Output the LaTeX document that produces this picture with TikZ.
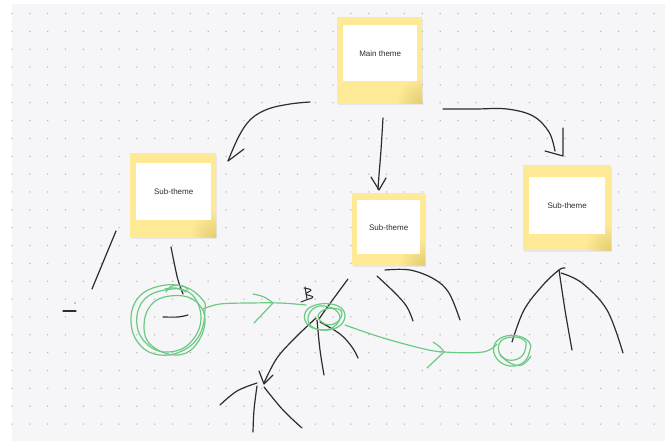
\documentclass[tikz,border=0pt]{standalone}
\usepackage{fontspec}
\setmainfont{Liberation Sans}
\usetikzlibrary{shadows,fadings}
\definecolor{board}{RGB}{246,246,248}
\definecolor{griddot}{RGB}{180,180,186}
\definecolor{notey}{RGB}{253,233,150}
\definecolor{notedark}{RGB}{226,205,112}
\definecolor{ink}{RGB}{45,45,45}
\definecolor{marker}{RGB}{108,201,132}
\tikzfading[name=cornerfade, inner color=transparent!0, outer color=transparent!100]

% sticky note: name, outer NW corner, outer w, outer h, card NW corner, card w, card h, text
\newcommand\stickynote[8]{%
  \node[note, minimum width=#3, minimum height=#4] (#1box) at #2 {};
  \begin{scope}
    \clip (#1box.south west) rectangle (#1box.north east);
    \fill[notedark, path fading=cornerfade] (#1box.south east) circle (26pt);
  \end{scope}
  \node[card, minimum width=#6, minimum height=#7] (#1) at #5 {#8};
}

\begin{document}
\begin{tikzpicture}[x=1pt,y=-1pt,
  note/.style={fill=notey, draw=none, inner sep=0pt, anchor=north west,
    drop shadow={opacity=0.12, shadow xshift=0.6pt, shadow yshift=-1.6pt}},
  card/.style={fill=white, inner sep=0pt, anchor=north west,
    font=\fontsize{8}{9}\selectfont, text=black!82},
  pen/.style={draw=ink, line width=1.2pt, line cap=round, line join=round},
  hl/.style={draw=marker, line width=1.2pt, line cap=round, line join=round}]

\useasboundingbox (0,0) rectangle (665,441);
\fill[white] (0,0) rectangle (665,441);
\fill[board] (12,4) rectangle (665,441);

% dotted grid
\foreach \i in {0,...,36} {
  \foreach \j in {0,...,23} {
    \fill[griddot] (12+17.84*\i, 13.5+17.85*\j) circle (0.75pt);
  }
}

% sticky notes
\stickynote{main}{(337,17)}{85pt}{86pt}{(343,25)}{74pt}{56pt}{Main theme}
\stickynote{subA}{(130,153)}{86pt}{84pt}{(136,163)}{75pt}{57pt}{Sub-theme}
\stickynote{subB}{(352,193)}{73pt}{72pt}{(357,200)}{63pt}{54pt}{Sub-theme}
\stickynote{subC}{(523,165)}{88pt}{85pt}{(529,177)}{76pt}{57pt}{Sub-theme}

% arrows from the main theme
\coordinate (tipA) at (228,161);
\coordinate (tipB) at (379,190);
\coordinate (tipC) at (563,156);
\draw[pen] plot[smooth, tension=0.6] coordinates {(310,102) (290,104) (268,109) (251,119) (239,136) (228,161)};
\draw[pen] (tipA) -- (244,149);
\draw[pen] plot[smooth, tension=0.6] coordinates {(383,118) (381,150) (379,175) (378,189)};
\draw[pen] (371,177) -- (tipB) -- (386,178);
\draw[pen] plot[smooth, tension=0.6] coordinates {(443,109) (475,109) (507,109) (533,116) (549,132) (555,151)};
\draw[pen] (563,128) -- (tipC) -- (545,151);

% strokes under the left sub-theme
\draw[pen] (116,231) -- (92,289);
\draw[pen] (63,311) -- (76,311);
\fill[ink] (75,303) circle (0.6pt);
\draw[pen] plot[smooth, tension=0.6] coordinates {(171,247) (174,262) (178,280) (183,294)};
\draw[pen] plot[smooth, tension=0.6] coordinates {(163,317) (178,317) (188,315)};

% strokes round the middle hub
\draw[pen, line width=1pt] plot[smooth, tension=0.7] coordinates {(304,288) (311,290) (306,294) (313,297) (306,300) (301,302)};
\draw[pen, line width=1pt] (305,287) -- (307,299);
\draw[pen] plot[smooth, tension=0.6] coordinates {(348,279) (334,298) (326,309) (319,319)};
\coordinate (tipD) at (264,384);
\draw[pen] plot[smooth, tension=0.6] coordinates {(316,318) (296,337) (277,358) (264,383)};
\draw[pen] (259,371) -- (tipD) -- (273,375);
\draw[pen] plot[smooth, tension=0.6] coordinates {(317,320) (320,350) (324,375)};
\draw[pen] plot[smooth, tension=0.6] coordinates {(320,322) (340,334) (352,347) (358,358)};
\draw[pen] plot[smooth, tension=0.6] coordinates {(220,405) (237,391) (257,383)};
\draw[pen] plot[smooth, tension=0.6] coordinates {(257,386) (254,410) (253,432)};
\draw[pen] plot[smooth, tension=0.6] coordinates {(264,387) (283,410) (302,428)};
\draw[pen] plot[smooth, tension=0.6] coordinates {(377,276) (396,294) (407,307) (413,321)};
\draw[pen] plot[smooth, tension=0.6] coordinates {(385,270) (410,270) (434,279) (449,293) (460,320)};

% strokes under the right sub-theme
\draw[pen] plot[smooth, tension=0.6] coordinates {(512,342) (524,310) (543,285) (559,270) (565,268)};
\draw[pen] plot[smooth, tension=0.6] coordinates {(559,270) (565,310) (572,350)};
\draw[pen] plot[smooth, tension=0.6] coordinates {(561,273) (582,283) (607,310) (623,353)};

% green marker: loops and links
\draw[hl] plot[smooth cycle, tension=0.7] coordinates {(205,310) (200,334) (184,350) (160,355) (140,345) (131,322) (138,298) (160,286) (185,287) (202,299)};
\draw[hl] plot[smooth cycle, tension=0.7] coordinates {(201,318) (190,343) (168,352) (148,345) (137,325) (143,301) (165,290) (190,293)};
\draw[hl] plot[smooth cycle, tension=0.7] coordinates {(194,300) (170,296) (151,305) (144,326) (151,345) (175,355) (195,346) (205,320)};
\draw[hl] plot[smooth, tension=0.7] coordinates {(166,292) (172,286) (183,286) (188,290)};
\draw[hl] plot[smooth, tension=0.7] coordinates {(165,289) (176,288) (186,292)};

\coordinate (tipE) at (273,303);
\draw[hl] plot[smooth, tension=0.6] coordinates {(203,309) (220,304) (250,303) (280,303) (306,305)};
\draw[hl] plot[smooth, tension=0.6] coordinates {(253,294) (264,297) (tipE)};
\draw[hl] (254,323) -- (tipE);

\draw[hl] plot[smooth cycle, tension=0.7] coordinates {(345,316) (338,327) (322,330) (307,324) (306,311) (320,304) (338,306)};
\draw[hl] plot[smooth cycle, tension=0.7] coordinates {(340,318) (330,329) (314,328) (308,318) (316,307) (332,308)};
\draw[hl] plot[smooth cycle, tension=0.7] coordinates {(342,314) (336,323) (325,324) (318,316) (326,309) (338,309)};

\coordinate (tipF) at (444,352);
\draw[hl] plot[smooth, tension=0.6] coordinates {(345,325) (380,337) (420,348) (444,352) (483,352) (497,344)};
\draw[hl] plot[smooth, tension=0.6] coordinates {(433,342) (440,347) (tipF)};
\draw[hl] (427,368) -- (tipF);

\draw[hl] plot[smooth cycle, tension=0.7] coordinates {(530,350) (524,362) (510,366) (497,359) (494,346) (503,337) (518,336) (529,342)};
\draw[hl] plot[smooth cycle, tension=0.7] coordinates {(526,346) (521,357) (508,360) (499,352) (501,341) (513,337) (524,340)};
\draw[hl] plot[smooth, tension=0.7] coordinates {(500,355) (510,363) (522,365) (531,356)};
\end{tikzpicture}
\end{document}
